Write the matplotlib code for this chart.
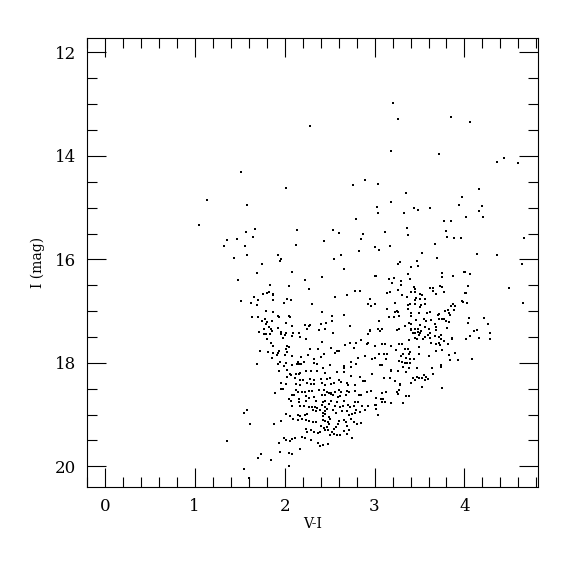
import matplotlib
matplotlib.use('Agg')
import matplotlib.pyplot as plt
from matplotlib.ticker import MultipleLocator

# colour (V-I) and magnitude (I) of each star
vi = [
 1.750, 1.943, 1.698, 1.479, 1.836, 1.802, 1.821, 1.758, 1.869, 1.873, 1.661, 1.702, 1.520, 1.628, 1.698,
 1.873, 1.995, 1.795, 1.865, 1.921, 1.932, 1.639, 1.709, 1.787, 1.743, 1.799, 1.858, 1.791, 1.821, 1.850,
 1.921, 1.772,
 2.080, 2.410, 2.659, 3.001, 2.225, 2.043, 2.273, 2.696, 2.786, 2.841, 2.555, 2.024, 2.076, 2.953, 2.306,
 2.923, 2.964, 2.410, 2.050, 2.061, 2.522, 2.659, 2.455, 2.529, 2.399, 2.013, 2.084, 2.228, 2.266, 2.284,
 2.726, 2.254, 2.381, 2.448, 2.953,
 3.261, 3.287, 3.469, 3.484, 3.402, 3.016, 3.376, 3.391, 3.161, 3.216, 3.194, 3.298, 3.294, 3.755, 3.748,
 3.878, 4.011, 3.436, 3.450, 3.621, 3.647, 3.733, 3.751, 3.651, 3.688, 3.770, 4.011, 3.138, 3.168, 3.257,
 3.309, 3.358, 3.410, 3.450, 3.502, 3.528, 3.465, 3.450, 3.510, 3.562, 3.228, 3.372, 3.395, 3.454, 3.514,
 3.565, 3.008, 3.138, 3.369, 3.502, 3.246, 3.265, 3.228, 3.406, 3.495, 3.584, 3.618, 3.870, 3.900, 3.855,
 3.982, 3.889, 3.818, 3.829, 3.785, 3.844, 3.714, 3.703, 3.161, 3.213, 3.268, 3.406, 3.465, 3.554, 3.573,
 3.632, 3.670, 3.718, 3.748, 3.773, 3.796, 3.826, 3.053, 3.380, 3.406, 3.335, 3.510, 3.558, 3.603, 3.688,
 3.688, 3.268, 3.034, 3.086, 3.454, 3.484, 3.811, 3.410,
 1.720, 1.861, 1.954, 1.961, 1.772, 1.794, 1.835, 1.801, 1.987, 2.006, 1.846, 1.872, 1.724, 1.816, 1.876,
 1.917, 1.935, 1.931, 1.861, 2.002, 1.694, 1.928, 1.946, 1.991, 1.935, 1.965, 1.954, 1.983, 1.898,
 2.017, 2.095, 2.162, 2.087, 2.169, 2.240, 2.537, 2.927, 2.953, 2.845, 2.927, 2.912, 2.667, 2.722, 2.797,
 3.001, 2.771, 2.414, 2.028, 2.050, 2.017, 2.024, 2.280, 2.366, 2.518, 2.578, 2.600, 2.563, 2.433, 2.407,
 2.262, 2.184, 2.084, 2.321, 2.890, 2.815, 2.734, 2.968, 3.001, 2.210, 2.184, 2.147, 2.162, 2.087, 2.143,
 2.017, 2.332, 2.355, 2.422, 2.500, 2.659, 2.656, 2.741, 2.793, 2.024, 2.058, 2.072, 2.169, 2.158, 2.121,
 2.236, 2.295, 2.358, 2.451, 2.585, 2.656, 2.741, 2.838, 2.971, 2.024, 2.020, 2.110, 2.169, 2.199, 2.277,
 2.325, 2.399, 2.503, 2.474, 2.414, 2.444, 2.518, 2.548, 2.604, 2.630, 2.696, 2.704, 2.778, 2.867, 2.897,
 2.121, 2.173, 2.254, 2.288, 2.332, 2.124, 2.147, 2.191, 2.221, 2.273, 2.303, 2.384, 2.433, 2.466, 2.488,
 2.518, 2.563, 2.600, 2.630, 2.696, 2.719, 2.786, 2.956, 2.080, 2.099, 2.240, 2.266, 2.332, 2.414, 2.444,
 2.511, 2.533, 2.589, 2.619, 2.685, 2.830, 2.853, 2.916, 2.043, 2.162,
 3.064, 3.246, 3.406, 3.428, 3.454, 3.480, 3.502, 3.514, 3.491, 3.447, 3.476, 3.558, 3.591, 3.621, 3.536,
 3.618, 3.677, 3.714, 3.740, 3.740, 3.863, 3.866, 3.380, 3.625, 3.684, 3.714, 3.774, 3.818, 3.725, 3.083,
 3.120, 3.183, 3.272, 3.306, 3.491, 3.339, 3.376, 3.242, 3.053, 3.101, 3.138, 3.131, 3.320, 3.380, 3.395,
 3.291, 3.350, 3.391, 3.436, 3.491, 3.603, 3.684, 3.751, 3.833, 3.900, 3.844, 3.930, 3.276, 3.302, 3.335,
 3.361, 3.398, 3.060, 3.083, 3.313, 3.380, 3.473, 3.183, 3.179, 3.261, 3.354, 3.640, 3.736, 3.736, 3.655,
 3.551, 3.573, 3.591, 3.565, 3.473, 3.491, 3.432, 3.454, 3.402, 3.528, 3.101, 3.168, 3.228, 3.287, 3.280,
 3.268, 3.254, 3.261, 3.528, 3.755, 3.083, 3.124, 3.346, 3.384, 3.020, 3.075, 3.094,
 1.579, 1.545, 1.620, 1.883, 1.958, 1.991, 1.356, 1.935, 1.950, 1.738, 1.709, 1.846, 1.553, 1.600,
 2.072, 2.165, 2.236, 2.347, 2.425, 2.444, 2.511, 2.581, 2.656, 2.786, 2.815, 2.087, 2.169, 2.214, 2.266,
 2.303, 2.340, 2.358, 2.418, 2.451, 2.474, 2.488, 2.555, 2.611, 2.644, 2.704, 2.722, 2.771, 2.860, 2.927,
 3.008, 2.318, 2.347, 2.396, 2.429, 2.451, 2.541, 2.570, 2.637, 2.689, 2.789, 2.838, 2.890, 2.017, 2.061,
 2.147, 2.176, 2.228, 2.251, 2.422, 2.451, 2.496, 2.711, 2.748, 2.786, 2.095, 2.147, 2.191, 2.236, 2.273,
 2.310, 2.347, 2.422, 2.451, 2.481, 2.507, 2.488, 2.600, 2.656, 2.685, 2.734, 2.767, 2.800, 2.853, 2.407,
 2.437, 2.466, 2.444, 2.481, 2.544, 2.570, 2.589, 2.696, 2.526, 2.548, 2.288, 2.332, 2.370, 2.392, 2.251,
 2.236, 2.503, 2.578, 2.615, 2.660, 2.689, 2.711, 2.748, 2.191, 2.221, 2.288, 2.080, 2.110, 2.013, 2.065,
 2.169, 2.370, 2.392, 2.429, 2.481, 2.043, 2.080, 2.050,
 3.016, 3.083, 3.120, 3.179, 3.320, 3.016, 3.034,
 4.063, 4.442, 4.364, 4.598, 4.160, 3.974, 4.197, 4.160, 4.204, 4.019, 3.963, 4.661, 4.141, 4.364, 4.639,
 4.000, 4.056, 4.037, 4.494, 4.015, 3.974, 4.033, 4.650, 4.045, 4.041, 4.219, 4.267, 4.111, 4.141, 4.279,
 4.067, 4.022, 4.167, 4.282, 4.089,
 2.281, 1.516, 2.013, 1.133, 1.579, 1.051, 1.672, 1.571, 1.649, 2.136, 1.356, 1.475, 1.330, 1.556, 2.437,
 2.125, 1.579, 1.441, 1.931, 1.954,
 3.200, 3.265, 3.851, 3.179, 3.721, 2.893, 2.756, 3.042, 3.354, 3.187, 3.031, 3.443, 3.488, 3.618, 3.941,
 3.042, 3.324, 2.797, 3.774, 3.851, 2.540, 2.607, 2.867, 3.116, 3.361, 3.372, 3.796, 3.803, 3.885, 2.845,
 3.005, 3.053, 3.176, 3.677, 2.823, 2.622, 2.548, 3.525, 3.692,
]
imag = [
 16.08, 16.03, 16.26, 16.39, 16.50, 16.65, 16.63, 16.66, 16.66, 16.69, 16.73, 16.79, 16.81, 16.84, 16.88,
 16.78, 16.85, 16.99, 17.01, 17.10, 17.12, 17.11, 17.11, 17.16, 17.20, 17.21, 17.20, 17.25, 17.30, 17.34,
 17.32, 17.35,
 16.24, 16.34, 16.19, 16.33, 16.39, 16.52, 16.58, 16.68, 16.61, 16.61, 16.73, 16.77, 16.79, 16.77, 16.87,
 16.87, 16.91, 17.01, 17.10, 17.12, 17.09, 17.07, 17.22, 17.19, 17.25, 17.23, 17.28, 17.27, 17.28, 17.27,
 17.29, 17.35, 17.36, 17.35, 17.36,
 16.08, 16.05, 16.03, 16.12, 16.15, 16.33, 16.28, 16.38, 16.38, 16.36, 16.45, 16.41, 16.50, 16.26, 16.34,
 16.32, 16.25, 16.54, 16.57, 16.55, 16.55, 16.52, 16.54, 16.61, 16.66, 16.63, 16.65, 16.65, 16.64, 16.59,
 16.68, 16.73, 16.64, 16.64, 16.66, 16.68, 16.74, 16.79, 16.76, 16.76, 16.85, 16.88, 16.86, 16.87, 16.89,
 16.86, 16.86, 16.96, 16.96, 16.92, 16.99, 17.01, 17.02, 17.03, 17.03, 17.03, 17.02, 16.86, 16.90, 16.91,
 16.83, 16.97, 16.98, 17.03, 16.99, 17.08, 17.05, 17.08, 17.12, 17.11, 17.10, 17.09, 17.17, 17.16, 17.19,
 17.18, 17.24, 17.16, 17.16, 17.16, 17.20, 17.21, 17.19, 17.22, 17.25, 17.28, 17.27, 17.31, 17.34, 17.30,
 17.36, 17.35, 17.34, 17.34, 17.35, 17.35, 17.32, 17.34,
 17.40, 17.39, 17.40, 17.44, 17.45, 17.45, 17.45, 17.54, 17.52, 17.46, 17.61, 17.67, 17.78, 17.79, 17.80,
 17.84, 17.77, 17.81, 17.90, 17.85, 18.03, 18.03, 17.99, 18.06, 18.15, 18.38, 18.51, 18.50, 18.58,
 17.43, 17.42, 17.43, 17.48, 17.50, 17.54, 17.43, 17.45, 17.38, 17.56, 17.61, 17.63, 17.65, 17.61, 17.61,
 17.67, 17.72, 17.60, 17.67, 17.70, 17.74, 17.79, 17.74, 17.74, 17.72, 17.77, 17.77, 17.81, 17.83, 17.88,
 17.85, 17.88, 17.87, 17.92, 17.87, 17.90, 17.99, 17.93, 17.90, 17.99, 18.03, 17.98, 18.03, 18.05, 18.03,
 18.01, 18.00, 18.03, 18.09, 18.05, 18.06, 18.09, 18.08, 18.03, 18.14, 18.21, 18.24, 18.19, 18.22, 18.21,
 18.16, 18.16, 18.16, 18.19, 18.17, 18.18, 18.25, 18.27, 18.22, 18.28, 18.40, 18.30, 18.34, 18.34, 18.32,
 18.34, 18.31, 18.29, 18.32, 18.39, 18.43, 18.40, 18.38, 18.34, 18.37, 18.39, 18.43, 18.43, 18.35, 18.35,
 18.41, 18.43, 18.39, 18.41, 18.40, 18.53, 18.56, 18.57, 18.57, 18.55, 18.54, 18.52, 18.53, 18.57, 18.59,
 18.59, 18.56, 18.52, 18.57, 18.54, 18.57, 18.54, 18.55, 18.63, 18.63, 18.64, 18.67, 18.66, 18.63, 18.62,
 18.61, 18.63, 18.66, 18.64, 18.63, 18.63, 18.63, 18.57, 18.70, 18.70,
 17.38, 17.37, 17.37, 17.42, 17.43, 17.41, 17.43, 17.39, 17.47, 17.51, 17.54, 17.50, 17.46, 17.42, 17.54,
 17.51, 17.49, 17.50, 17.46, 17.54, 17.52, 17.54, 17.56, 17.62, 17.63, 17.61, 17.58, 17.63, 17.65, 17.63,
 17.63, 17.68, 17.64, 17.63, 17.70, 17.73, 17.74, 17.76, 17.83, 17.83, 17.83, 17.92, 17.83, 17.83, 17.79,
 17.87, 17.91, 17.93, 17.92, 17.83, 17.87, 17.78, 17.76, 17.85, 17.81, 17.94, 17.94, 17.97, 17.99, 18.01,
 18.01, 18.00, 18.05, 18.05, 18.08, 18.09, 18.10, 18.14, 18.16, 18.15, 18.18, 18.09, 18.04, 18.08, 18.21,
 18.23, 18.28, 18.32, 18.33, 18.27, 18.30, 18.30, 18.34, 18.38, 18.29, 18.30, 18.30, 18.35, 18.40, 18.43,
 18.52, 18.57, 18.61, 18.46, 18.48, 18.58, 18.56, 18.65, 18.65, 18.68, 18.70, 18.69,
 18.91, 18.96, 19.19, 19.19, 19.12, 19.45, 19.51, 19.55, 19.73, 19.76, 19.84, 19.88, 20.05, 20.22,
 18.74, 18.75, 18.74, 18.74, 18.75, 18.74, 18.74, 18.75, 18.74, 18.75, 18.75, 18.83, 18.83, 18.83, 18.85,
 18.86, 18.85, 18.88, 18.82, 18.85, 18.89, 18.80, 18.83, 18.85, 18.83, 18.81, 18.85, 18.84, 18.84, 18.83,
 18.82, 18.92, 18.93, 18.92, 18.97, 18.94, 18.92, 18.96, 18.93, 18.94, 18.92, 18.95, 18.92, 18.98, 19.02,
 19.00, 19.03, 19.01, 18.99, 19.03, 18.99, 19.04, 19.01, 18.99, 18.97, 19.08, 19.11, 19.08, 19.11, 19.12,
 19.14, 19.15, 19.10, 19.12, 19.15, 19.08, 19.19, 19.12, 19.11, 19.15, 19.08, 19.15, 19.19, 19.17, 19.23,
 19.25, 19.24, 19.30, 19.30, 19.28, 19.24, 19.19, 19.23, 19.34, 19.37, 19.30, 19.34, 19.35, 19.34, 19.33,
 19.28, 19.39, 19.39, 19.39, 19.32, 19.37, 19.29, 19.45, 19.43, 19.46, 19.50, 19.47, 19.45, 19.50, 19.52,
 19.66, 19.55, 19.60, 19.58, 19.57, 19.75, 19.77, 19.99,
 18.82, 18.75, 18.75, 18.77, 18.77, 18.90, 19.01,
 13.34, 14.05, 14.12, 14.13, 14.64, 14.79, 14.96, 15.07, 15.19, 15.19, 15.59, 15.59, 15.90, 15.92, 16.08,
 16.24, 16.29, 16.51, 16.55, 16.65, 16.81, 16.84, 16.85, 17.14, 17.23, 17.14, 17.25, 17.39, 17.37, 17.43,
 17.48, 17.54, 17.51, 17.53, 17.92,
 13.43, 14.32, 14.62, 14.85, 14.95, 15.33, 15.41, 15.47, 15.57, 15.43, 15.62, 15.61, 15.74, 15.75, 15.64,
 15.72, 15.92, 15.97, 15.92, 16.00,
 12.98, 13.28, 13.25, 13.90, 13.97, 14.46, 14.57, 14.55, 14.72, 14.90, 14.98, 15.01, 15.05, 15.01, 14.94,
 15.10, 15.10, 15.21, 15.25, 15.26, 15.44, 15.49, 15.50, 15.48, 15.39, 15.52, 15.46, 15.56, 15.59, 15.61,
 15.77, 15.82, 15.74, 15.70, 15.83, 15.92, 15.99, 15.88, 15.98,
]

plt.rcParams['font.family'] = 'DejaVu Serif'

fig = plt.figure(figsize=(5.75, 5.75), dpi=100)
ax = fig.add_axes([0.151, 0.153, 0.785, 0.781])

ax.scatter(vi, imag, s=3, c='black', marker='s', linewidths=0)

ax.set_xlim(-0.2, 4.82)
ax.set_ylim(20.4, 11.72)
ax.xaxis.set_major_locator(MultipleLocator(1))
ax.xaxis.set_minor_locator(MultipleLocator(0.2))
ax.yaxis.set_major_locator(MultipleLocator(2))
ax.yaxis.set_minor_locator(MultipleLocator(0.5))
ax.tick_params(which='both', direction='in', top=True, right=True, width=0.8)
ax.tick_params(which='major', length=14, labelsize=12, pad=8)
ax.tick_params(which='minor', length=7)

ax.set_xlabel('V-I', fontsize=10, labelpad=1)
ax.set_ylabel('I (mag)', fontsize=10, labelpad=7)

fig.savefig('out.png', dpi=100)
